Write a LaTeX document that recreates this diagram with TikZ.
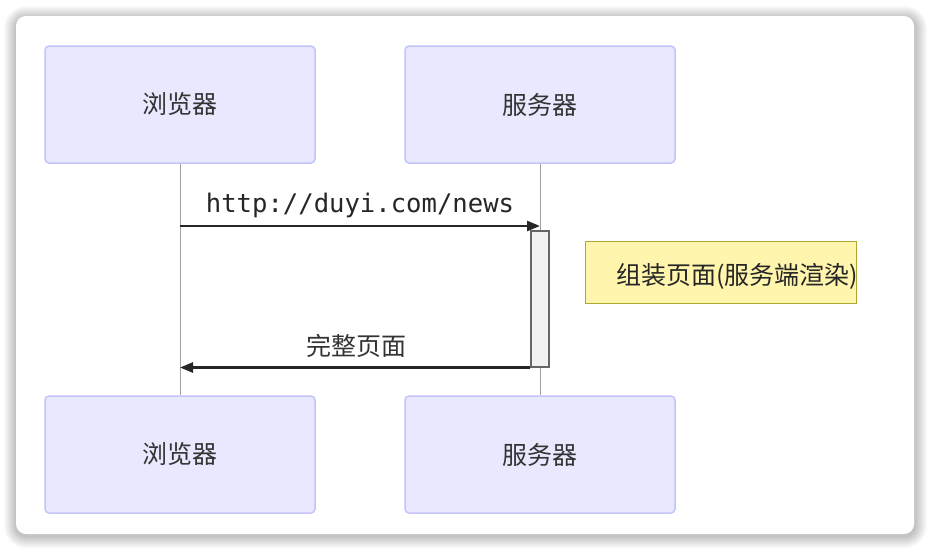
\documentclass[tikz,border=0pt]{standalone}
\usepackage{fontspec}
\newfontfamily\cjk{Noto Sans CJK SC}
\newfontfamily\monof{DejaVu Sans Mono}
\usetikzlibrary{arrows.meta,calc}
\definecolor{actfill}{HTML}{E8E8FF}
\definecolor{actdraw}{HTML}{C4C4FA}
\definecolor{notefill}{HTML}{FFF5AD}
\definecolor{notedraw}{HTML}{AAAA33}
\definecolor{txt}{HTML}{333333}
\definecolor{life}{HTML}{A0A0A0}
\tikzset{
  actor/.style={draw=actdraw,fill=actfill,line width=1.5pt,rounded corners=4pt,
    minimum width=270pt,minimum height=117pt,inner sep=0pt,
    font=\cjk\fontsize{25}{29}\selectfont,text=txt},
  lifeline/.style={draw=life,line width=1pt},
  msg/.style={draw=black!85,line width=2.5pt,-{Triangle[length=13pt,width=10pt]}},
  activation/.style={draw=black!60,fill=black!5,line width=1.5pt,minimum width=18pt,minimum height=136pt,inner sep=0pt},
  notebox/.style={draw=notedraw,fill=notefill,line width=1.2pt,minimum width=271pt,minimum height=62pt,inner sep=0pt},
  lbl/.style={text=txt,inner sep=0pt}
}
\begin{document}
\begin{tikzpicture}[x=1pt,y=-1pt]
\useasboundingbox (0,0) rectangle (930,550);
\fill[white] (0,0) rectangle (930,550);
% card shadow
\foreach \i in {12,11,...,1}{
  \fill[black,opacity=0.02,rounded corners={10pt+\i pt}] ({16-\i},{18-\i}) rectangle ({915+\i},{536+\i});
}
\fill[white,rounded corners=10pt] (16,16) rectangle (914,534);
% actors
\node[actor] (b1) at (180,104.5) {浏览器};
\node[actor] (s1) at (540,104.5) {服务器};
\node[actor] (b2) at (180,454.5) {浏览器};
\node[actor] (s2) at (540,454.5) {服务器};
% lifelines
\draw[lifeline] (b1.south) -- (b2.north);
\draw[lifeline] (s1.south) -- (s2.north);
% activation
\node[activation,anchor=north] (act) at (540,230) {};
% note
\node[notebox,anchor=north west] (note) at (585,241) {};
\node[lbl,anchor=west,font=\cjk\fontsize{25}{29}\selectfont,text=black!85] (notetxt) at (616,276) {组装页面(服务端渲染)};
% messages
\coordinate (m1s) at (b1.south |- 0,226);
\coordinate (m1e) at (s1.south |- 0,226);
\draw[msg] (m1s) -- (m1e);
\node[lbl,font=\monof\fontsize{25.6}{30}\selectfont,text=black!85] (m1l) at (360,205) {http://duyi.com/news};
\coordinate (m2s) at (act.south west);
\coordinate (m2e) at (b1.south |- act.south);
\draw[msg] (m2s) -- (m2e);
\node[lbl,font=\cjk\fontsize{25}{29}\selectfont] (m2l) at (356,346) {完整页面};
\end{tikzpicture}
\end{document}
